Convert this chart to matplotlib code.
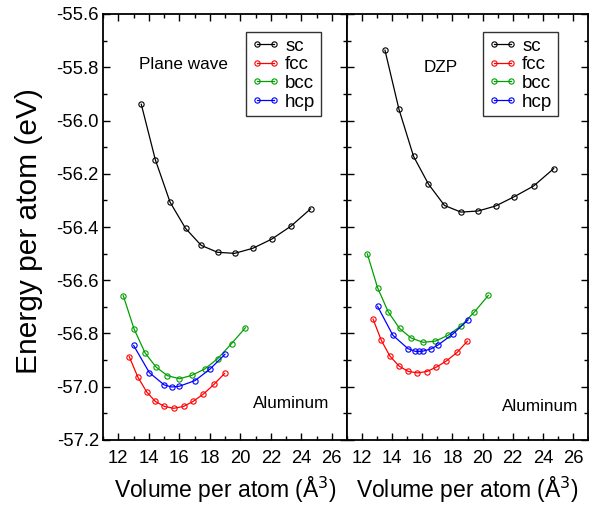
import matplotlib
matplotlib.use("Agg")
import matplotlib.pyplot as plt
from matplotlib.ticker import MultipleLocator

plt.rcParams['font.family'] = ['Liberation Sans', 'DejaVu Sans']

# Plane wave panel
pw_sc_v = [13.51, 14.43, 15.40, 16.41, 17.44, 18.51, 19.63, 20.82, 22.05, 23.32, 24.61]
pw_sc_e = [-55.939, -56.147, -56.307, -56.405, -56.469, -56.495, -56.499, -56.480, -56.446, -56.397, -56.332]
pw_fcc_v = [12.72, 13.28, 13.87, 14.43, 15.03, 15.64, 16.28, 16.91, 17.59, 18.28, 18.97]
pw_fcc_e = [-56.887, -56.963, -57.020, -57.055, -57.074, -57.081, -57.074, -57.055, -57.027, -56.991, -56.950]
pw_bcc_v = [12.33, 13.03, 13.76, 14.48, 15.22, 16.01, 16.83, 17.68, 18.51, 19.43, 20.34]
pw_bcc_e = [-56.658, -56.782, -56.873, -56.926, -56.958, -56.970, -56.957, -56.933, -56.895, -56.838, -56.778]
pw_hcp_v = [13.01, 14.04, 15.01, 15.51, 16.01, 17.03, 18.01, 19.00]
pw_hcp_e = [-56.845, -56.947, -56.993, -57.001, -56.998, -56.977, -56.934, -56.878]

# DZP panel
dz_sc_v = [13.52, 14.45, 15.42, 16.41, 17.47, 18.56, 19.70, 20.87, 22.11, 23.39, 24.72]
dz_sc_e = [-55.736, -55.958, -56.135, -56.239, -56.319, -56.344, -56.340, -56.321, -56.286, -56.246, -56.181]
dz_fcc_v = [12.73, 13.28, 13.85, 14.45, 15.05, 15.66, 16.30, 16.94, 17.60, 18.31, 18.99]
dz_fcc_e = [-56.746, -56.826, -56.885, -56.922, -56.942, -56.948, -56.943, -56.926, -56.903, -56.871, -56.829]
dz_bcc_v = [12.35, 13.03, 13.74, 14.49, 15.26, 16.04, 16.85, 17.70, 18.58, 19.46, 20.38]
dz_bcc_e = [-56.501, -56.628, -56.719, -56.781, -56.817, -56.833, -56.829, -56.807, -56.771, -56.719, -56.657]
dz_hcp_v = [13.03, 14.05, 15.05, 15.53, 15.79, 16.06, 16.57, 17.05, 18.03, 19.04]
dz_hcp_e = [-56.698, -56.807, -56.857, -56.867, -56.867, -56.866, -56.858, -56.843, -56.802, -56.749]

series_names = ['sc', 'fcc', 'bcc', 'hcp']
colors = ['black', 'red', '#00a000', 'blue']
xticks = [12, 14, 16, 18, 20, 22, 24, 26]
yticks = [-57.2, -57.0, -56.8, -56.6, -56.4, -56.2, -56.0, -55.8, -55.6]

fig = plt.figure(figsize=(5.89, 5.12), dpi=100)
W, H = 589, 512
def rect(x0, y0, x1, y1):
    return [x0 / W, 1 - y1 / H, (x1 - x0) / W, (y1 - y0) / H]

axL = fig.add_axes(rect(103, 14, 347, 440))
axR = fig.add_axes(rect(347, 14, 588, 440))

panels = [
    (axL, [(pw_sc_v, pw_sc_e), (pw_fcc_v, pw_fcc_e), (pw_bcc_v, pw_bcc_e), (pw_hcp_v, pw_hcp_e)], 0.893),
    (axR, [(dz_sc_v, dz_sc_e), (dz_fcc_v, dz_fcc_e), (dz_bcc_v, dz_bcc_e), (dz_hcp_v, dz_hcp_e)], 0.876),
]

for ax, data, lx in panels:
    for (v, e), name, c in zip(data, series_names, colors):
        ax.plot(v, e, '-o', color=c, lw=0.9, ms=3.8, mfc='none', mew=0.8, label=name)
    ax.set_xlim(11, 27)
    ax.set_ylim(-57.2, -55.6)
    ax.set_xticks(xticks)
    ax.set_yticks(yticks)
    ax.xaxis.set_minor_locator(MultipleLocator(1))
    ax.yaxis.set_minor_locator(MultipleLocator(0.1))
    ax.tick_params(which='both', direction='in', top=True, right=True, labelsize=13.3, width=1)
    ax.tick_params(axis='x', which='major', pad=7)
    ax.tick_params(axis='y', which='major', pad=3)
    ax.tick_params(which='major', length=5)
    ax.tick_params(which='minor', length=3)
    for s in ax.spines.values():
        s.set_linewidth(1.3)
    ax.set_xlabel('Volume per atom (Å$^3$)', fontsize=16.5)
    ax.xaxis.set_label_coords(0.5, -0.082)
    leg = ax.legend(loc='upper right', bbox_to_anchor=(lx, 0.958), borderaxespad=0,
                    fontsize=13.5, numpoints=2, handlelength=1.5, handletextpad=0.3,
                    borderpad=0.3, labelspacing=0.08, fancybox=False, framealpha=1,
                    edgecolor='#333333')
    leg.get_frame().set_linewidth(1.0)

axL.set_yticklabels([f'{t:.1f}' for t in yticks])
axR.tick_params(labelleft=False)
axL.set_ylabel('Energy per atom (eV)', fontsize=21.5)
axL.yaxis.set_label_coords(-0.245, 0.49)

axL.text(16.26, -55.79, 'Plane wave', fontsize=12.3, ha='center', va='center')
axR.text(17.25, -55.80, 'DZP', fontsize=12.3, ha='center', va='center')
axL.text(23.33, -57.062, 'Aluminum', fontsize=12.3, ha='center', va='center')
axR.text(23.8, -57.075, 'Aluminum', fontsize=12.3, ha='center', va='center')

fig.savefig('out.png', dpi=100)
